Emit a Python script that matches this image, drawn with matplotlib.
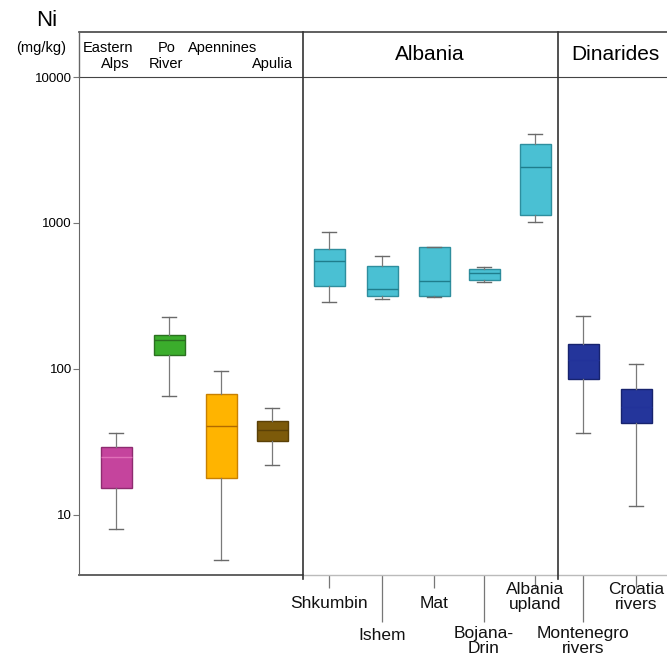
import matplotlib
matplotlib.use("Agg")
import matplotlib.pyplot as plt
from matplotlib.lines import Line2D
import matplotlib.transforms as mtransforms

plt.rcParams['font.family'] = ['Liberation Sans', 'DejaVu Sans']

# ---- data (Ni, mg/kg) ----
groups = ["Eastern Alps", "Po River", "Apennines", "Apulia",
          "Shkumbin", "Ishem", "Mat", "Bojana-Drin", "Albania upland",
          "Montenegro rivers", "Croatia rivers"]
whis_lo = [8.0, 65, 4.9, 22, 289, 301, 313, 396, 1011, 36.5, 11.6]
q1 = [15.3, 125, 17.9, 32, 373, 317, 317, 407, 1140, 85, 42.5]
med = [24.9, 157, 40.9, 37.9, 546, 351, 401, 453, 2419, 115, 55]
q3 = [29.2, 172, 67.3, 43.8, 659, 511, 683, 486, 3450, 148, 72.8]
whis_hi = [36.3, 227, 96.9, 53.7, 872, 596, 683, 501, 4066, 230, 108]

ytick_vals = [10, 100, 1000, 10000]
ytick_labels = ["10", "100", "1000", "10000"]

bottom_labels = ["Shkumbin", "Ishem", "Mat", "Bojana-\nDrin", "Albania\nupland",
                 "Montenegro\nrivers", "Croatia\nrivers"]

# ---- layout / style ----
W, H = 667, 662
positions = [116, 169, 221, 272, 329, 382, 434, 484, 535, 583, 636]
face = ["#C5449D", "#3BAD2C", "#FFB400", "#7C5A0A"] + ["#4AC0D3"] * 5 + ["#24359B"] * 2
edge = ["#8E2B70", "#2B7020", "#C88000", "#5A4006"] + ["#2E8E9E"] * 5 + ["#17236E"] * 2
medc = ["#E070B8", "#2B7020", "#B06A00", "#5A4006"] + ["#1F7D8C"] * 5 + ["#22329A"] * 2

fig = plt.figure(figsize=(W / 100, H / 100), dpi=100)
ax_left, ax_right, ax_top, ax_bot = 79, 667, 77, 575
ax = fig.add_axes([ax_left / W, 1 - ax_bot / H, (ax_right - ax_left) / W, (ax_bot - ax_top) / H])

stats = []
for i, g in enumerate(groups):
    stats.append(dict(label=g, whislo=whis_lo[i], q1=q1[i], med=med[i], q3=q3[i], whishi=whis_hi[i]))

bp = ax.bxp(stats, positions=positions, widths=31, patch_artist=True, showfliers=False,
            manage_ticks=False, capwidths=14)
for i, b in enumerate(bp['boxes']):
    b.set_facecolor(face[i])
    b.set_edgecolor(edge[i])
    b.set_linewidth(1.0)
for i, m in enumerate(bp['medians']):
    m.set_color(medc[i])
    m.set_linewidth(1.0)
for w in bp['whiskers']:
    w.set_color("#7a7a7a")
    w.set_linewidth(0.9)
for c in bp['caps']:
    c.set_color("#6a6a6a")
    c.set_linewidth(1.0)

ax.set_yscale('log')
ax.set_ylim(3.88, 10000)
ax.set_xlim(ax_left, ax_right)
ax.set_yticks(ytick_vals)
ax.set_yticklabels(ytick_labels, fontsize=9.5)
ax.yaxis.set_minor_locator(matplotlib.ticker.NullLocator())
ax.tick_params(axis='y', length=4, color="#777777", pad=1)

for s in ['right', 'bottom']:
    ax.spines[s].set_visible(False)
ax.spines['left'].set_color("#666666")
ax.spines['top'].set_color("#444444")

# bottom ticks: short (major) and long (minor)
short_idx = [4, 6, 8, 10]
long_idx = [5, 7, 9]
ax.set_xticks([positions[i] for i in short_idx])
ax.set_xticklabels([])
ax.set_xticks([positions[i] for i in long_idx], minor=True)
ax.tick_params(axis='x', which='major', length=9.5, color="#777777", width=0.9)
ax.tick_params(axis='x', which='minor', length=34, color="#777777", width=0.9)

# bottom spine segments
trans_xd = mtransforms.blended_transform_factory(ax.transData, ax.transAxes)
ax.add_line(Line2D([ax_left, 303], [0, 0], transform=trans_xd, color="#555555", lw=1.3, clip_on=False))
ax.add_line(Line2D([303, ax_right], [0, 0], transform=trans_xd, color="#bbbbbb", lw=1.0, clip_on=False))

# bottom labels
def yfrac(p):
    return (ax_bot - p) / (ax_bot - ax_top)

label_y = [604, 636, 604, 641, 597, 641, 597]
idx_order = [4, 5, 6, 7, 8, 9, 10]
for lab, i, py in zip(bottom_labels, idx_order, label_y):
    ax.text(positions[i], yfrac(py), lab, transform=trans_xd, ha='center', va='center',
            fontsize=12.5, linespacing=1.0, color="#111111")

# header frame and dividers in figure pixel coords
def fx(x):
    return x / W

def fy(y):
    return 1 - y / H

hdr_top = 32
fig.add_artist(Line2D([fx(ax_left), fx(W)], [fy(hdr_top), fy(hdr_top)], color="#444444", lw=1.2))
fig.add_artist(Line2D([fx(ax_left), fx(ax_left)], [fy(hdr_top), fy(ax_top)], color="#666666", lw=1.0))
for xd in [303, 558]:
    fig.add_artist(Line2D([fx(xd), fx(xd)], [fy(hdr_top), fy(579)], color="#333333", lw=1.2))

# header texts
fig.text(fx(47), fy(21), "Ni", ha='center', va='center', fontsize=16)
fig.text(fx(41), fy(48), "(mg/kg)", ha='center', va='center', fontsize=10.5)
fig.text(fx(108), fy(48), "Eastern", ha='center', va='center', fontsize=10.5)
fig.text(fx(115), fy(64), "Alps", ha='center', va='center', fontsize=10.5)
fig.text(fx(167), fy(48), "Po", ha='center', va='center', fontsize=10.5)
fig.text(fx(166), fy(64), "River", ha='center', va='center', fontsize=10.5)
fig.text(fx(223), fy(48), "Apennines", ha='center', va='center', fontsize=10.5)
fig.text(fx(272), fy(64), "Apulia", ha='center', va='center', fontsize=10.5)
fig.text(fx(430), fy(55), "Albania", ha='center', va='center', fontsize=15)
fig.text(fx(615), fy(55), "Dinarides", ha='center', va='center', fontsize=15)

fig.savefig("out.png", dpi=100, facecolor="white")
